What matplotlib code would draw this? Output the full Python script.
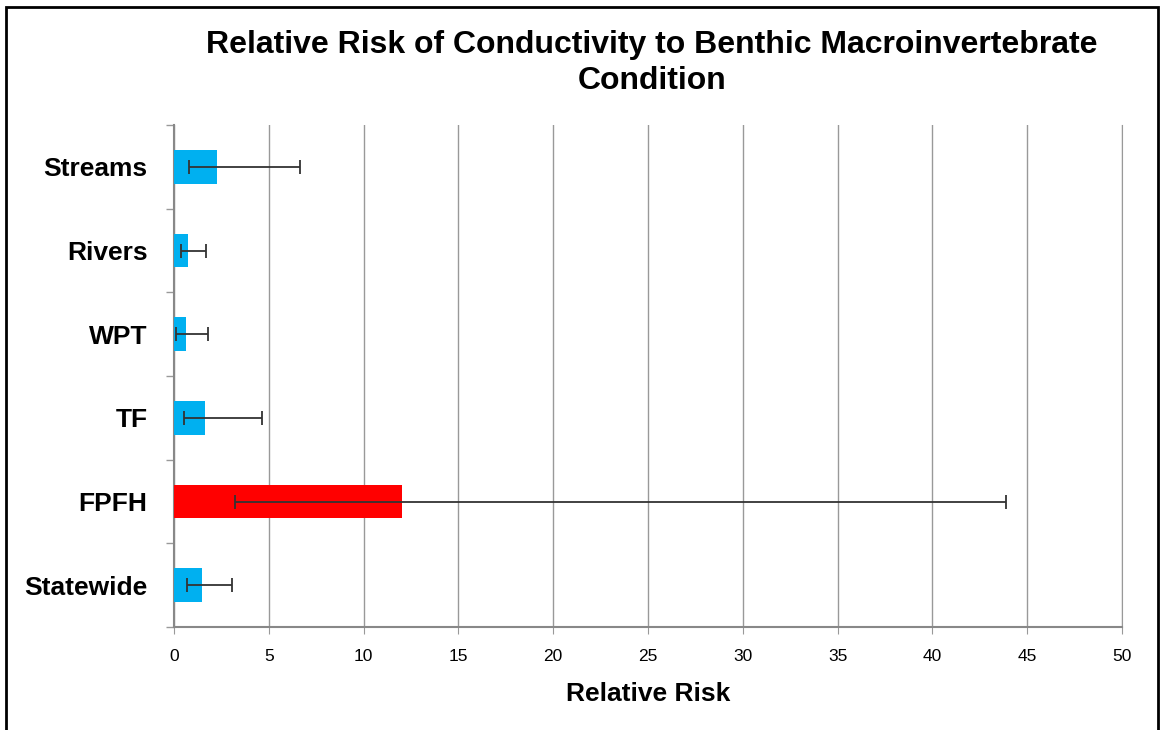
import numpy as np
import matplotlib.pyplot as plt
from matplotlib.patches import Rectangle

plt.rcParams['font.family'] = ['Liberation Sans', 'DejaVu Sans']

categories = ['Streams', 'Rivers', 'WPT', 'TF', 'FPFH', 'Statewide']
risk = [2.27, 0.74, 0.63, 1.63, 12.0, 1.46]
lower = [0.79, 0.35, 0.12, 0.53, 3.22, 0.67]
upper = [6.65, 1.69, 1.78, 4.66, 43.9, 3.04]
colors = ['#00B0F0', '#00B0F0', '#00B0F0', '#00B0F0', '#FF0000', '#00B0F0']

fig = plt.figure(figsize=(11.61, 7.30), dpi=100)
ax = fig.add_axes([174 / 1161, 1 - 627 / 730, 948 / 1161, 502 / 730])

y = np.arange(len(categories))[::-1]
ax.barh(y, risk, height=0.4, color=colors, zorder=3)

# confidence interval as error bars around the point estimate
risk_arr = np.array(risk)
xerr = [risk_arr - np.array(lower), np.array(upper) - risk_arr]
ax.errorbar(risk, y, xerr=xerr, fmt='none', ecolor='#333333', elinewidth=1.3,
            capsize=5, capthick=1.3, zorder=4)

ax.set_xlim(0, 50)
ax.set_ylim(-0.5, len(categories) - 0.5)
ax.set_xticks(np.arange(0, 51, 5))
ax.set_xticklabels([str(v) for v in range(0, 51, 5)], fontsize=12.5)
ax.set_yticks(y)
ax.set_yticklabels(categories, fontsize=19, fontweight='bold')
ax.set_yticks(np.arange(-0.5, len(categories), 1), minor=True)
ax.tick_params(axis='y', which='major', length=0, pad=19)
ax.tick_params(axis='y', which='minor', length=6, color='#999999', width=1)
ax.tick_params(axis='x', length=5, color='#999999', pad=11)

ax.grid(axis='x', color='#999999', linewidth=1, zorder=0)
ax.spines['top'].set_visible(False)
ax.spines['right'].set_color('#999999')
for s in ['left', 'bottom']:
    ax.spines[s].set_color('#888888')
    ax.spines[s].set_linewidth(1.5)

ax.set_xlabel('Relative Risk', fontsize=19, fontweight='bold', labelpad=13)
fig.text(652 / 1161, 1 - 63 / 730,
         'Relative Risk of Conductivity to Benthic Macroinvertebrate\nCondition',
         ha='center', va='center', fontsize=23, fontweight='bold', linespacing=1.22)

# outer frame
fig.patches.append(Rectangle((6 / 1161, -0.05), 1152 / 1161, 1 - 7 / 730 + 0.05,
                             transform=fig.transFigure, fill=False,
                             edgecolor='black', linewidth=2))

fig.savefig('out.png', dpi=100)
